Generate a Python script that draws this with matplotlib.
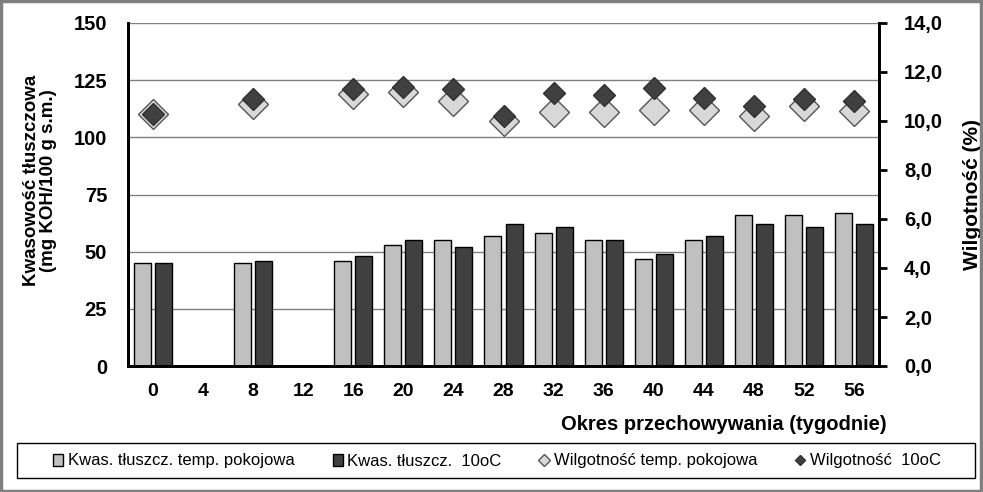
import numpy as np
import matplotlib.pyplot as plt
from matplotlib.patches import Rectangle

plt.rcParams['font.family'] = ['Liberation Sans', 'DejaVu Sans']

# --- Data ---
weeks = ['0', '4', '8', '12', '16', '20', '24', '28', '32', '36', '40', '44', '48', '52', '56']
acid_room = [45, np.nan, 45, np.nan, 46, 53, 55, 57, 58, 55, 47, 55, 66, 66, 67]
acid_10c = [45, np.nan, 46, np.nan, 48, 55, 52, 62, 61, 55, 49, 57, 62, 61, 62]
moist_room = [10.3, np.nan, 10.7, np.nan, 11.1, 11.2, 10.8, 10.0, 10.35, 10.35, 10.45, 10.45, 10.2, 10.6, 10.4]
moist_10c = [10.3, np.nan, 10.9, np.nan, 11.3, 11.4, 11.3, 10.2, 11.15, 11.05, 11.35, 10.95, 10.6, 10.9, 10.8]

light = '#c0c0c0'
dark = '#404040'

fig = plt.figure(figsize=(9.83, 4.92), dpi=100)
ax = fig.add_axes([128 / 983, 1 - 366 / 492, (879 - 128) / 983, (366 - 23) / 492])
ax2 = ax.twinx()

x = np.arange(len(weeks))
w = 0.34
ax.bar(x - 0.21, acid_room, w, color=light, edgecolor='black', linewidth=1, zorder=2,
       label='Kwas. tłuszcz. temp. pokojowa')
ax.bar(x + 0.21, acid_10c, w, color=dark, edgecolor='black', linewidth=1, zorder=2,
       label='Kwas. tłuszcz.  10oC')

ax2.plot(x, moist_room, 'D', ms=15, color='#d8d8d8', mec='#555555', mew=1,
         label='Wilgotność temp. pokojowa')
ax2.plot(x, moist_10c, 'D', ms=11.5, color=dark, mec='#303030', mew=1,
         label='Wilgotność  10oC')

ax.set_xlim(-0.5, len(weeks) - 0.5)
ax.set_ylim(0, 150)
ax.set_yticks(range(0, 151, 25))
ax2.set_ylim(0, 14)
ax2.set_yticks(range(0, 15, 2))
ax2.set_yticklabels([f'{v},0' for v in range(0, 15, 2)])
ax.set_xticks(x)
ax.set_xticklabels(weeks)

ax.grid(axis='y', color='#808080', linewidth=1)
ax.set_axisbelow(True)
for a in (ax, ax2):
    a.spines['top'].set_visible(False)
    a.spines['left'].set_linewidth(2)
    a.spines['bottom'].set_linewidth(2)
    a.spines['right'].set_linewidth(2)
ax.tick_params(axis='y', length=0, pad=15, labelsize=14.5)
ax.tick_params(axis='x', length=0, pad=12, labelsize=14)
ax2.tick_params(axis='y', length=6, width=2, pad=12, labelsize=14.5)
for lab in ax.get_xticklabels() + ax.get_yticklabels() + ax2.get_yticklabels():
    lab.set_fontweight('bold')

ax.set_ylabel('Kwasowość tłuszczowa\n(mg KOH/100 g s.m.)', fontsize=13.5, fontweight='bold',
              linespacing=1.05)
ax.yaxis.set_label_coords(-0.094, 0.54)
ax2.set_ylabel('Wilgotność (%)', fontsize=15, fontweight='bold')
ax2.yaxis.set_label_coords(1.112, 0.5)
fig.text(887 / 983, 1 - 424 / 492, 'Okres przechowywania (tygodnie)', ha='right', va='center',
         fontsize=14.5, fontweight='bold')

h1, l1 = ax.get_legend_handles_labels()
h2, l2 = ax2.get_legend_handles_labels()
leg = fig.legend(h1 + h2, l1 + l2, loc='center', ncol=4,
                 bbox_to_anchor=(497 / 983, 1 - 461 / 492),
                 fontsize=12, frameon=False, handlelength=0.6, handletextpad=0.25,
                 columnspacing=2.3, markerscale=0.4)

fig.patches.append(Rectangle((17 / 983, 1 - 478 / 492), 958 / 983, 35 / 492,
                             transform=fig.transFigure, fill=False, edgecolor='black',
                             linewidth=1))
fig.patches.append(Rectangle((0.001, 0.002), 0.997, 0.995, transform=fig.transFigure,
                             fill=False, edgecolor='#808080', linewidth=2.5))

fig.savefig('out.png', dpi=100)
